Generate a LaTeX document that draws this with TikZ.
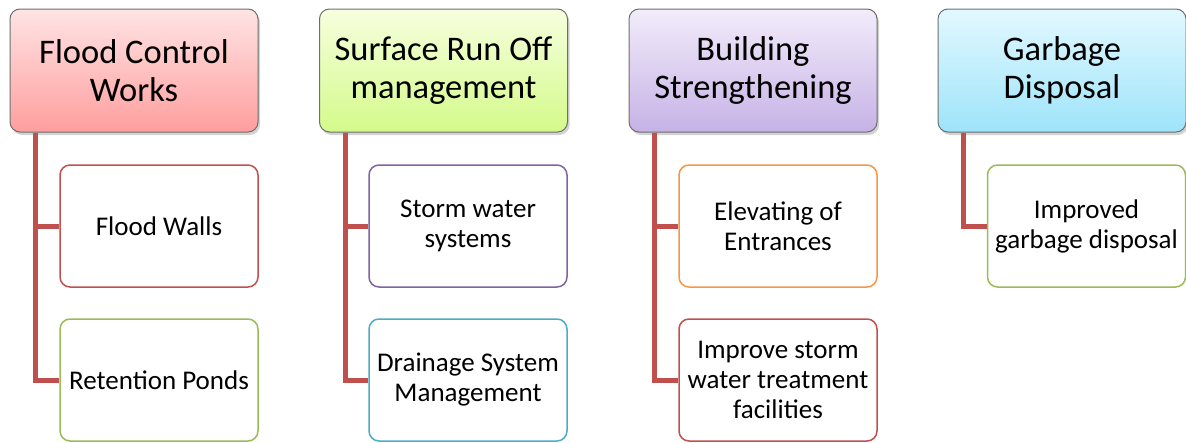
\documentclass[tikz,border=0pt]{standalone}
\usepackage{fontspec}
\setmainfont{Carlito}
\usetikzlibrary{shadows}

\definecolor{linkred}{HTML}{C0504D}
\definecolor{accgreen}{HTML}{9BBB59}
\definecolor{accpurple}{HTML}{8064A2}
\definecolor{acccyan}{HTML}{4BACC6}
\definecolor{accorange}{HTML}{F79646}
\definecolor{headborder}{HTML}{6E6E6E}

\tikzset{
  headbox/.style={rounded corners=10pt, draw=headborder, line width=1pt,
    minimum width=248pt, minimum height=123pt, align=center,
    font=\fontsize{34.5}{38}\selectfont,
    drop shadow={opacity=0.35, shadow xshift=2pt, shadow yshift=-3pt}},
  childbox/.style={rounded corners=10pt, fill=white, line width=1.5pt,
    minimum width=198pt, minimum height=122pt, align=center,
    font=\fontsize{27}{30}\selectfont},
  link/.style={draw=linkred, line width=5pt},
}

\begin{document}
\begin{tikzpicture}[x=1pt, y=-1pt]
  \useasboundingbox (0,0) rectangle (1186,442);

  % column headers
  \node[headbox, top color={rgb,255:red,255;green,228;blue,228},
        bottom color={rgb,255:red,255;green,158;blue,158}]
        (h1) at (134,70.5) {Flood Control\\Works};
  \node[headbox, top color={rgb,255:red,246;green,255;blue,222},
        bottom color={rgb,255:red,212;green,250;blue,138}]
        (h2) at (443.5,70.5) {Surface Run Off\\management};
  \node[headbox, top color={rgb,255:red,242;green,236;blue,250},
        bottom color={rgb,255:red,198;green,178;blue,230}]
        (h3) at (753,70.5) {Building\\Strengthening};
  \node[headbox, top color={rgb,255:red,226;green,248;blue,255},
        bottom color={rgb,255:red,158;green,228;blue,250}]
        (h4) at (1062,70.5) {Garbage\\Disposal};

  % sub-items
  \node[childbox, draw=linkred]   (k11) at (159,226)    {Flood Walls};
  \node[childbox, draw=accgreen]  (k12) at (159,380)    {Retention Ponds};
  \node[childbox, draw=accpurple] (k21) at (468,226)    {Storm water\\systems};
  \node[childbox, draw=acccyan]   (k22) at (468,380)    {Drainage System\\Management};
  \node[childbox, draw=accorange] (k31) at (778,226)    {Elevating of\\Entrances};
  \node[childbox, draw=linkred]   (k32) at (778,380)    {Improve storm\\water treatment\\facilities};
  \node[childbox, draw=accgreen]  (k41) at (1086.5,226) {Improved\\garbage disposal};

  % connectors from headers to sub-items
  \draw[link] ([xshift=26pt]h1.south west) |- (k11.west);
  \draw[link] ([xshift=26pt]h1.south west) |- (k12.west);
  \draw[link] ([xshift=26pt]h2.south west) |- (k21.west);
  \draw[link] ([xshift=26pt]h2.south west) |- (k22.west);
  \draw[link] ([xshift=26pt]h3.south west) |- (k31.west);
  \draw[link] ([xshift=26pt]h3.south west) |- (k32.west);
  \draw[link] ([xshift=26pt]h4.south west) |- (k41.west);
\end{tikzpicture}
\end{document}
